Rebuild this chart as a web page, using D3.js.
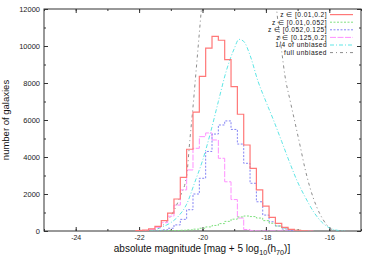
<!DOCTYPE html>
<html><head><meta charset="utf-8">
<script src="https://cdn.jsdelivr.net/npm/d3@7"></script>
<style>
html,body{margin:0;padding:0;background:#fff;}
svg{display:block;font-family:"Liberation Sans",Arial,sans-serif;}
</style></head>
<body><svg id="c" width="374" height="262"></svg>
<script>
// bin centres (0.2 mag bins)
const binCenters = [-22.0,-21.8,-21.6,-21.4,-21.2,-21.0,-20.8,-20.6,-20.4,-20.2,-20.0,-19.8,-19.6,-19.4,-19.2,-19.0,-18.8,-18.6,-18.4,-18.2,-18.0,-17.8,-17.6,-17.4,-17.2,-17.0,-16.8,-16.6];
const zAll   = [20,50,110,250,560,970,1730,2900,4420,6430,8360,9880,10520,10310,9260,7800,6310,4650,3390,2220,1350,740,415,200,90,40,10,0];
const zLow   = [0,0,0,0,5,10,20,40,60,100,150,220,300,400,520,640,760,810,780,700,560,420,270,160,80,40,15,5];
const zMid   = [0,0,5,20,60,150,330,630,1150,2000,2850,4300,5240,5730,5950,5490,4700,3660,2580,1580,860,500,270,110,40,10,0,0];
const zHigh  = [10,30,90,200,450,800,1400,2220,3300,4470,5100,5300,4920,3930,2660,1700,700,80,10,0,0,0,0,0,0,0,0,0];
const binWidth = 0.2;

// smooth curves
const quarterMag = [-21.7,-21.5,-21.25,-21.0,-20.75,-20.5,-20.25,-20.0,-19.75,-19.5,-19.25,-19.0,-18.85,-18.7,-18.5,-18.25,-18.0,-17.75,-17.5,-17.25,-17.0,-16.75,-16.5,-16.25,-16.0,-15.75,-15.5];
const quarterVal = [0,70,230,450,820,1450,2600,3800,5300,7000,8650,9850,10360,10250,9500,8100,7000,5950,4830,3700,2650,1800,1050,500,170,40,0];
const fullMag = [-21.7,-21.4,-21.13,-20.92,-20.71,-20.5,-20.4,-20.3,-20.2,-20.1,-20.0,-19.8,-19.3,-18.8,-18.3,-17.9,-17.7,-17.6,-17.5,-17.4,-17.24,-17.08,-16.92,-16.77,-16.61,-16.4,-16.19,-15.98,-15.8,-15.6];
const fullVal = [0,150,500,1040,1850,3000,4900,6700,8700,10700,12700,16500,22000,24000,21000,15500,12600,11000,9700,8400,7080,5850,4600,3400,2350,1310,600,150,30,0];

const xTicks = [-24,-22,-20,-18,-16];
const yTicks = [0,2000,4000,6000,8000,10000,12000];

const series = [
  {label:"z \u2208 [0.01,0.2]",    color:"#ff7878", dash:null,      width:1.2, vals:zAll},
  {label:"z \u2208 [0.01,0.052]",  color:"#7ee07e", dash:"2,1.5",   width:1,   vals:zLow},
  {label:"z \u2208 [0.052,0.125]", color:"#8484f4", dash:"2,1.5",   width:1,   vals:zMid},
  {label:"z \u2208 [0.125,0.2]",   color:"#ff90ff", dash:"6,1.5",   width:1,   vals:zHigh},
];
const curves = [
  {label:"1/4 of unbiased", color:"#5ee6e6", dash:"4,2,1,2", width:1, mag:quarterMag, val:quarterVal},
  {label:"full unbiased",   color:"#8c8c8c", dash:"3,3,1,3", width:1, mag:fullMag, val:fullVal},
];

const W=374,H=262, L=44, R=361, T=9, B=231;
const svg = d3.select("#c");
const x = d3.scaleLinear([-25,-15],[L,R]);
const y = d3.scaleLinear([0,12000],[B,T]);

svg.append("defs").append("clipPath").attr("id","pa")
  .append("rect").attr("x",L).attr("y",T).attr("width",R-L).attr("height",B-T);

function styleAxis(g){ g.select(".domain").remove(); g.selectAll("line").attr("stroke","#333"); g.selectAll("text").attr("fill","#222").style("font-family","Liberation Sans, Arial, sans-serif"); }
const minorX = d3.range(-25,-14,1), minorY = d3.range(0,12001,1000);
svg.append("g").attr("transform",`translate(0,${B})`).call(d3.axisBottom(x).tickValues(minorX).tickSize(-2).tickFormat("")).call(styleAxis);
svg.append("g").attr("transform",`translate(0,${T})`).call(d3.axisTop(x).tickValues(minorX).tickSize(-2).tickFormat("")).call(styleAxis);
svg.append("g").attr("transform",`translate(${L},0)`).call(d3.axisLeft(y).tickValues(minorY).tickSize(-2).tickFormat("")).call(styleAxis);
svg.append("g").attr("transform",`translate(${R},0)`).call(d3.axisRight(y).tickValues(minorY).tickSize(-2).tickFormat("")).call(styleAxis);

svg.append("g").attr("transform",`translate(0,${B})`)
  .call(d3.axisBottom(x).tickValues(xTicks).tickSize(-4).tickPadding(4).tickFormat(d=>d))
  .call(styleAxis).selectAll("text").attr("font-size",7);
svg.append("g").attr("transform",`translate(0,${T})`).call(d3.axisTop(x).tickValues(xTicks).tickSize(-4).tickFormat("")).call(styleAxis);
svg.append("g").attr("transform",`translate(${L},0)`)
  .call(d3.axisLeft(y).tickValues(yTicks).tickSize(-4).tickPadding(4).tickFormat(d=>d))
  .call(styleAxis).selectAll("text").attr("font-size",7.5);
svg.append("g").attr("transform",`translate(${R},0)`).call(d3.axisRight(y).tickValues(yTicks).tickSize(-4).tickFormat("")).call(styleAxis);

svg.append("rect").attr("x",L).attr("y",T).attr("width",R-L).attr("height",B-T)
  .attr("fill","none").attr("stroke","#333").attr("stroke-width",1);

const plot = svg.append("g").attr("clip-path","url(#pa)");

curves.forEach(c=>{
  const pts = c.mag.map((m,i)=>[m,c.val[i]]);
  plot.append("path").attr("d", d3.line().x(d=>x(d[0])).y(d=>y(d[1])).curve(d3.curveMonotoneX)(pts))
    .attr("fill","none").attr("stroke",c.color).attr("stroke-width",c.width).attr("stroke-dasharray",c.dash);
});

series.slice().reverse().forEach(s=>{
  const pts=[[binCenters[0]-binWidth/2,0]];
  binCenters.forEach((c,i)=>{ pts.push([c-binWidth/2,s.vals[i]]); pts.push([c+binWidth/2,s.vals[i]]); });
  pts.push([binCenters[binCenters.length-1]+binWidth/2,0]);
  plot.append("path").attr("d", d3.line().x(d=>x(d[0])).y(d=>y(d[1])).curve(d3.curveLinear)(pts))
    .attr("fill","none").attr("stroke",s.color).attr("stroke-width",s.width).attr("stroke-dasharray",s.dash);
});

// legend
const leg = svg.append("g");
const allL = series.concat(curves);
const rowY = [14.6,22.2,29.8,37.4,45,52.6];
allL.forEach((s,i)=>{
  leg.append("text").attr("x",327).attr("y",rowY[i]+2.4).attr("text-anchor","end")
    .attr("font-size",6.6).attr("letter-spacing",0.45).attr("fill","#111").text(s.label);
  leg.append("line").attr("x1",330).attr("x2",353).attr("y1",rowY[i]).attr("y2",rowY[i])
    .attr("stroke",s.color).attr("stroke-width",s.width).attr("stroke-dasharray",s.dash);
});

svg.append("text").attr("transform","translate(9,120) rotate(-90)").attr("text-anchor","middle")
  .attr("font-size",9.5).attr("fill","#111").text("number of galaxies");
const xl = svg.append("text").attr("x",202).attr("y",252).attr("text-anchor","middle")
  .attr("font-size",10).attr("fill","#111");
xl.append("tspan").text("absolute magnitude [mag + 5 log");
xl.append("tspan").attr("font-size",7.2).attr("dy",2.5).text("10");
xl.append("tspan").attr("dy",-2.5).text("(h");
xl.append("tspan").attr("font-size",7.2).attr("dy",2.5).text("70");
xl.append("tspan").attr("dy",-2.5).text(")]");
</script></body></html>
